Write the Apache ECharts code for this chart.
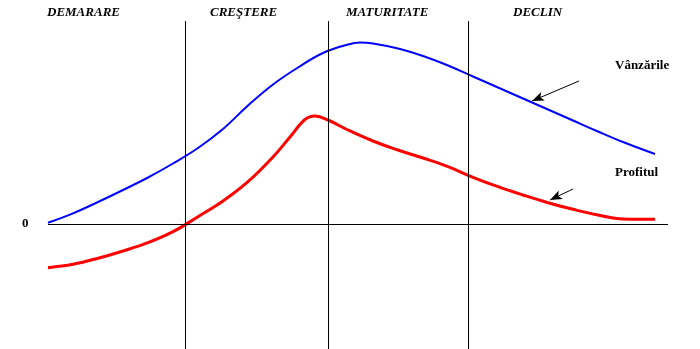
<!DOCTYPE html>
<html>
<head>
<meta charset="utf-8">
<script src="https://cdn.jsdelivr.net/npm/echarts@6/dist/echarts.min.js"></script>
<style>html,body{margin:0;padding:0;background:#fff}#c{width:700px;height:349px}</style>
</head>
<body>
<div id="c"></div>
<script>
// Phases of the product life cycle
var phases = ['DEMARARE', 'CREŞTERE', 'MATURITATE', 'DECLIN'];
// Boundaries between phases (time units)
var phaseBounds = [185, 328, 468];
// Sales curve (time, value)
var salesX = [48, 73, 98, 123, 148, 173, 198, 223, 248, 273, 298, 323, 348, 360, 373, 398, 423, 448, 473, 498, 523, 548, 573, 598, 623, 655];
var salesY = [1.3, 10.7, 22, 34, 46.5, 60.5, 76, 95, 118.5, 139.5, 156.5, 171, 179.5, 181.5, 180.5, 175.5, 168, 158.5, 147.5, 136.5, 125.5, 114.5, 103.5, 92.5, 82, 70];
// Profit curve (time, value)
var profitX = [48, 73, 98, 123, 148, 173, 198, 223, 248, 273, 290, 305, 315, 328, 348, 373, 398, 423, 448, 473, 498, 523, 548, 573, 598, 623, 655];
var profitY = [-43.7, -40.3, -34.3, -27, -18.7, -7.7, 7.3, 23, 42.3, 67, 87, 104.5, 108, 104, 94, 83, 74, 66, 57.3, 46.7, 37.3, 29, 21.3, 14.7, 9, 5, 4.7];
var seriesNames = ['Vânzările', 'Profitul'];

function pairs(xs, ys) { return xs.map(function (x, i) { return [x, ys[i]]; }); }

var chart = echarts.init(document.getElementById('c'));
var serif = '"Liberation Serif", "Times New Roman", serif';

var phaseLabelLeft = [47, 210, 346, 513];

chart.setOption({
  animation: false,
  grid: { left: 0, right: 0, top: 0, bottom: 0 },
  xAxis: { type: 'value', min: 0, max: 700, show: false },
  yAxis: { type: 'value', min: -125, max: 224, show: false },
  series: [
    {
      type: 'line', name: seriesNames[1], data: pairs(profitX, profitY),
      smooth: 0.4, showSymbol: false,
      lineStyle: { color: '#ff0000', width: 3 }
    },
    {
      type: 'line', name: seriesNames[0], data: pairs(salesX, salesY),
      smooth: 0.4, showSymbol: false,
      lineStyle: { color: '#0000ff', width: 2 },
      markLine: {
        silent: true, symbol: 'none', label: { show: false },
        lineStyle: { color: '#000', width: 1, type: 'solid' },
        data: [
          [{ coord: [48, 0] }, { coord: [668, 0] }]
        ].concat(phaseBounds.map(function (b) {
          return [{ coord: [b, 203] }, { coord: [b, -125] }];
        }))
      }
    },
    {
      type: 'line', data: [], silent: true,
      markLine: {
        silent: true, symbol: ['none', 'arrow'], symbolSize: [7, 12], label: { show: false },
        lineStyle: { color: '#000', width: 1, type: 'solid' },
        data: [
          [{ coord: [579, 143] }, { coord: [532, 123] }],
          [{ coord: [573, 35] }, { coord: [550, 24] }]
        ]
      }
    }
  ],
  graphic: phases.map(function (p, i) {
    return {
      type: 'text', left: phaseLabelLeft[i], top: 6,
      style: { text: p, font: 'italic bold 13px ' + serif, fill: '#000' }
    };
  }).concat([
    { type: 'text', left: 615, top: 59, style: { text: seriesNames[0], font: 'bold 13px ' + serif, fill: '#000' } },
    { type: 'text', left: 615, top: 166, style: { text: seriesNames[1], font: 'bold 13px ' + serif, fill: '#000' } },
    { type: 'text', left: 22, top: 217, style: { text: '0', font: 'bold 13px ' + serif, fill: '#000' } }
  ])
});
</script>
</body>
</html>
